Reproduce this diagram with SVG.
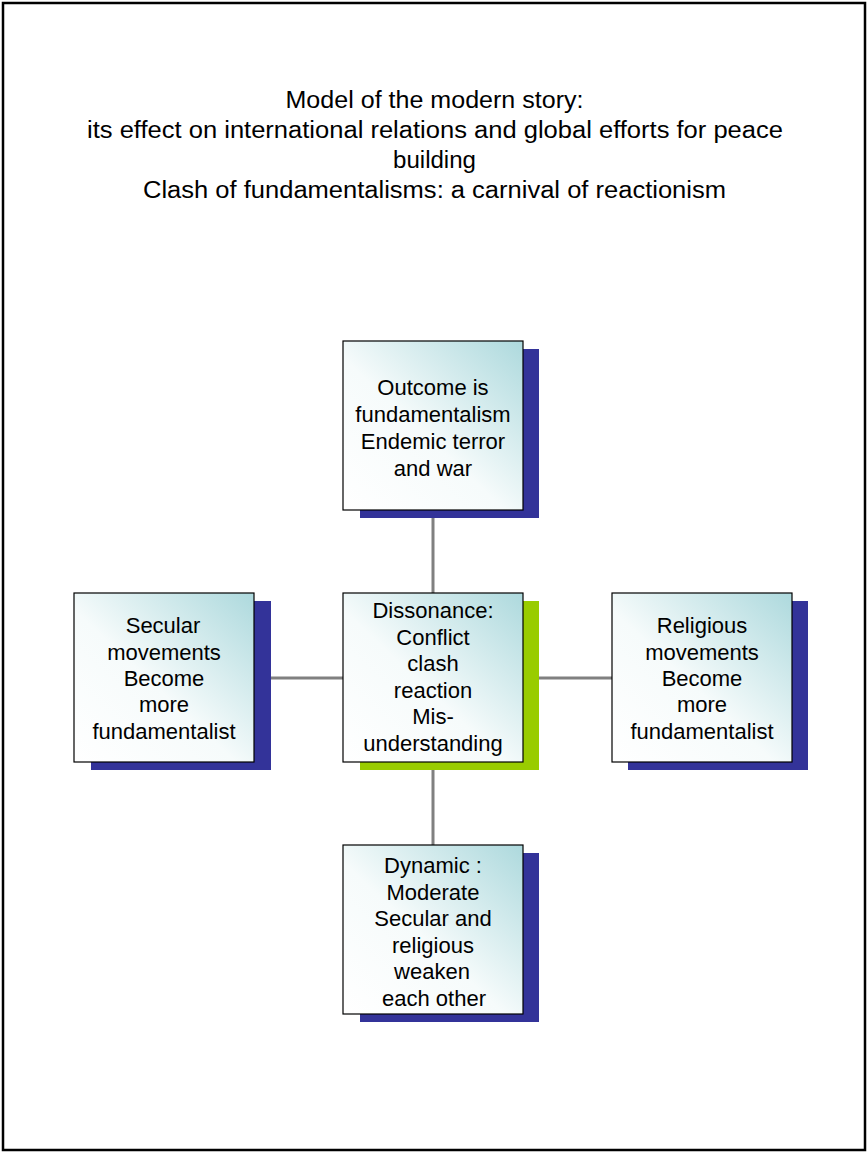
<svg xmlns="http://www.w3.org/2000/svg" width="867" height="1153" viewBox="0 0 867 1153">
<style>
.t{font-family:"Liberation Sans",Arial,sans-serif;font-size:22px;fill:#000;text-anchor:middle}
.title{font-family:"Liberation Sans",Arial,sans-serif;font-size:23px;fill:#000;text-anchor:middle}
.box{fill:url(#g);stroke:#000;stroke-width:1.2}
.sh{fill:#333399}
.shg{fill:#99CC00}
.c{stroke:#808080;stroke-width:3;fill:none}
</style>
<defs>
<linearGradient id="g" x1="0" y1="1" x2="1" y2="0">
<stop offset="0" stop-color="#FFFFFF"/>
<stop offset="0.45" stop-color="#F6FBFB"/>
<stop offset="1" stop-color="#ADD9DD"/>
</linearGradient>
</defs>
<rect x="0" y="0" width="867" height="1153" fill="#fff"/>
<rect x="3" y="3" width="862" height="1147" fill="none" stroke="#000" stroke-width="2.5"/>
<g id="title">
<text class="title" x="434.5" y="108" textLength="298" lengthAdjust="spacingAndGlyphs">Model of the modern story:</text>
<text class="title" x="435" y="138" textLength="696" lengthAdjust="spacingAndGlyphs">its effect on international relations and global efforts for peace</text>
<text class="title" x="434.5" y="168" textLength="83" lengthAdjust="spacingAndGlyphs">building</text>
<text class="title" x="434.5" y="198" textLength="583" lengthAdjust="spacingAndGlyphs">Clash of fundamentalisms: a carnival of reactionism</text>
</g>
<g id="connectors">
<line class="c" x1="433" y1="510" x2="433" y2="845"/>
<line class="c" x1="254" y1="678" x2="612" y2="678"/>
</g>
<g id="top">
<rect class="sh" x="360" y="349" width="179" height="169"/>
<rect class="box" x="343" y="341" width="180" height="169"/>
<text class="t" x="433" y="395">Outcome is</text>
<text class="t" x="433" y="422">fundamentalism</text>
<text class="t" x="433" y="449">Endemic terror</text>
<text class="t" x="433" y="475.5">and war</text>
</g>
<g id="center">
<rect class="shg" x="360" y="601" width="179" height="169"/>
<rect class="box" x="343" y="593" width="180" height="169"/>
<text class="t" x="433" y="618">Dissonance:</text>
<text class="t" x="433" y="644.5">Conflict</text>
<text class="t" x="433" y="671">clash</text>
<text class="t" x="433" y="697.5">reaction</text>
<text class="t" x="433" y="724">Mis-</text>
<text class="t" x="433" y="750.5">understanding</text>
</g>
<g id="left">
<rect class="sh" x="91" y="601" width="180" height="169"/>
<rect class="box" x="74" y="593" width="180" height="169"/>
<text class="t" x="163" y="633">Secular</text>
<text class="t" x="164" y="659.5">movements</text>
<text class="t" x="164" y="686">Become</text>
<text class="t" x="164" y="712">more</text>
<text class="t" x="164" y="738.5">fundamentalist</text>
</g>
<g id="right">
<rect class="sh" x="628" y="601" width="180" height="169"/>
<rect class="box" x="612" y="593" width="180" height="169"/>
<text class="t" x="702" y="633">Religious</text>
<text class="t" x="702" y="659.5">movements</text>
<text class="t" x="702" y="686">Become</text>
<text class="t" x="702" y="712">more</text>
<text class="t" x="702" y="738.5">fundamentalist</text>
</g>
<g id="bottom">
<rect class="sh" x="360" y="853" width="179" height="169"/>
<rect class="box" x="343" y="845" width="180" height="169"/>
<text class="t" x="433" y="873">Dynamic :</text>
<text class="t" x="433" y="899.5">Moderate</text>
<text class="t" x="433" y="926">Secular and</text>
<text class="t" x="433" y="952.5">religious</text>
<text class="t" x="432" y="979">weaken</text>
<text class="t" x="434" y="1005.5">each other</text>
</g>
</svg>
